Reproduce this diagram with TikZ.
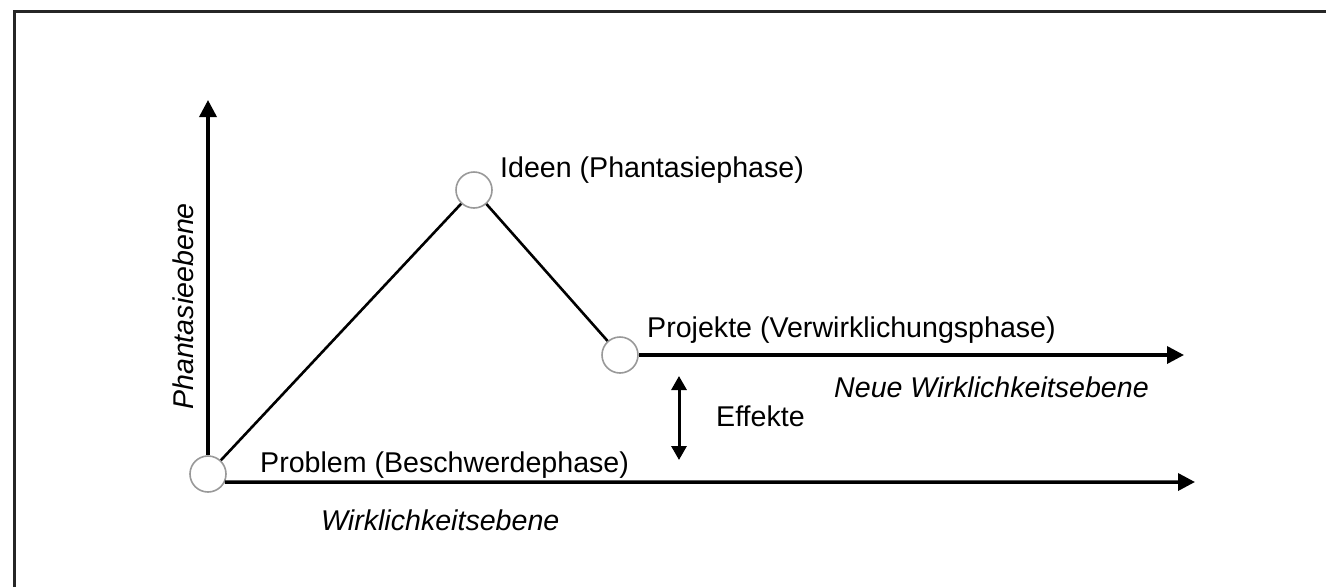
\documentclass[tikz,border=0pt]{standalone}
\usepackage{fontspec}
\setmainfont{Liberation Sans}
\usetikzlibrary{arrows.meta}
\tikzset{
  stage/.style={circle,draw=black!40,line width=1.6pt,fill=white,minimum size=36pt,inner sep=0pt},
  axis/.style={line width=3.5pt,-{Triangle[length=17pt,width=17pt]}},
  link/.style={line width=2.6pt},
  lbl/.style={font=\fontsize{28.6}{32}\selectfont,inner sep=0pt,anchor=base west},
  ilbl/.style={lbl,font=\fontsize{28.6}{32}\selectfont\itshape},
  frame/.style={line width=3pt,black!85}
}
\begin{document}
\begin{tikzpicture}[x=1pt,y=-1pt]
\useasboundingbox (0,0) rectangle (1326,587);
\fill[white] (0,0) rectangle (1326,587);
% frame (top and left edges)
\coordinate (fbl) at (14.5,587);
\coordinate (ftl) at (14.5,11);
\coordinate (ftr) at (1326,11);
\draw[frame] (fbl) -- (ftl) -- (ftr);
% stages
\node[stage] (p) at (208,474) {};
\node[stage] (i) at (474,190) {};
\node[stage] (j) at (620,355) {};
% axis end points
\coordinate (ytop) at (208,100);
\coordinate (xend) at (1195,482);
\coordinate (nend) at (1184,355);
\coordinate (eu) at (679,376);
\coordinate (ed) at (679,460);
% axes
\draw[axis] (p.north) -- (ytop);
\draw[axis] (p.-26) -- (xend);
\draw[axis] (j.east) -- (nend);
% links
\draw[link] (p) -- (i);
\draw[link] (i) -- (j);
% effekte
\draw[line width=3pt,{Triangle[length=14pt,width=15pt]}-{Triangle[length=14pt,width=15pt]}] (eu) -- (ed);
% labels
\node[lbl] (tp) at (260,472) {Problem (Beschwerdephase)};
\node[lbl] (ti) at (500,177) {Ideen (Phantasiephase)};
\node[lbl] (tj) at (647,337) {Projekte (Verwirklichungsphase)};
\node[lbl] (te) at (716,426) {Effekte};
\node[ilbl] (tn) at (834,397) {Neue Wirklichkeitsebene};
\node[ilbl] (tw) at (321,530) {Wirklichkeitsebene};
\node[ilbl,rotate=90] (tph) at (193,410) {Phantasieebene};
\end{tikzpicture}
\end{document}
